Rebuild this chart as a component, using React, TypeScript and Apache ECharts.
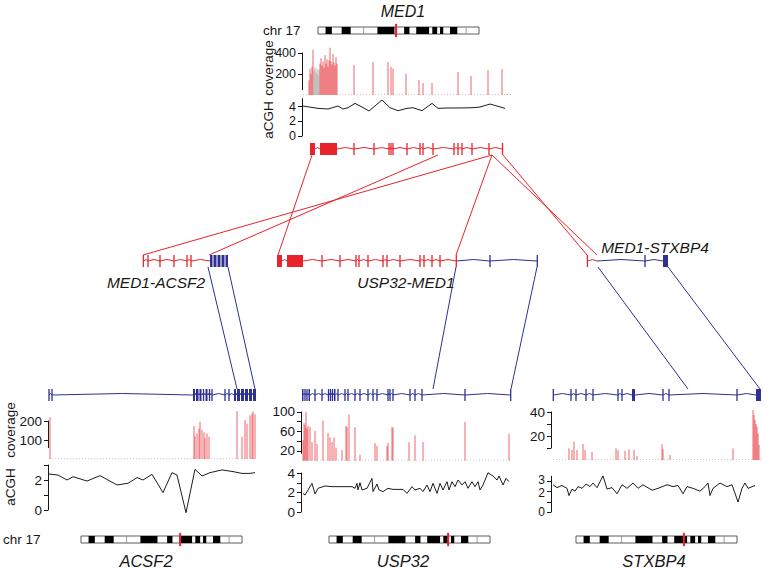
import React, { useEffect, useRef } from "react";
import * as echarts from "echarts";

const RED = "#e8232b";
const BLUE = "#2e3192";
const COV_RED = "rgba(229,36,44,0.74)";
const COV_GREY = "rgba(165,165,165,0.95)";
const INK = "#161616";
const FONT = "'Liberation Sans', Arial, Helvetica, sans-serif";

// ---------- chromosome 17 ideogram (percent of chromosome length) ----------
const chrBands = [[4.7, 8.6], [14.7, 20.3], [36.9, 47.5], [53.5, 56.8], [61, 69], [71, 74], [75.8, 77.8], [82, 86.5]];
const chrDividers = [28.3, 92];

// ---------- MED1 (top) ----------
// coverage: [position, reads, colour (0 red, 1 grey)]
const med1Coverage = [
  [6, 140, 0], [7, 250, 0], [8, 200, 0], [9, 270, 0], [10, 430, 0], [11, 230, 1], [12, 260, 1], [13, 210, 1],
  [14, 250, 1], [15, 190, 1], [16, 240, 1], [17, 300, 0], [18, 350, 0], [19, 280, 0], [20, 320, 0], [21, 260, 0],
  [22, 380, 0], [23, 300, 0], [24, 340, 0], [25, 270, 0], [26, 330, 0], [27, 450, 0], [28, 320, 0], [29, 290, 0],
  [30, 390, 0], [31, 310, 0], [32, 280, 0], [33, 360, 0], [34, 300, 0], [51, 286, 0], [70, 314, 0], [85, 314, 0],
  [88, 267, 0], [90, 250, 0], [103, 200, 0], [116, 143, 0], [120, 114, 0], [129, 114, 0], [155, 219, 0],
  [168, 181, 0], [185, 238, 0], [199, 248, 0], [204, 14, 1], [207, 10, 1],
];
const med1Acgh = [
  [0, 4.09], [15, 3.77], [25, 3.68], [35, 4.09], [40, 3.68], [45, 3.86], [52, 4.45], [59, 3.95], [66, 3.41],
  [79, 4.91], [87, 3.86], [95, 3.45], [104, 3.77], [110, 3.86], [119, 3.45], [129, 4.45], [135, 3.77],
  [144, 3.82], [157, 3.82], [170, 3.86], [177, 3.95], [187, 4.36], [194, 4.09], [202, 3.77],
];
// exons: [start, end, colour (0 MED1 red, 1 partner blue)]
const med1Exons = [
  [7, 12, 0], [17, 34, 0], [51, 51, 0], [71, 71, 0], [86, 86, 0], [88, 88, 0], [90, 90, 0], [104, 104, 0],
  [117, 117, 0], [120, 120, 0], [130, 130, 0], [151, 151, 0], [155, 155, 0], [159, 159, 0], [169, 169, 0],
  [186, 186, 0], [199, 200, 0],
];

// ---------- fusion transcripts (middle) ----------
const med1Acsf2Exons = [
  [0, 0.8, 0], [5, 5, 0], [17, 17, 0], [31, 31, 0], [44, 44, 0], [48, 48, 0],
  [67, 69.5, 1], [70.5, 73.5, 1], [74.5, 77.5, 1], [78.5, 81.5, 1], [82.5, 85, 1],
];
const med1Acsf2Introns = [[0.8, 5, 0], [5, 17, 0], [17, 31, 0], [31, 44, 0], [44, 48, 0], [48, 67, 0]];
const usp32Med1Exons = [
  [0, 5, 0], [10, 26, 0], [45, 45, 0], [63, 63, 0], [79, 79, 0], [82, 82, 0], [91, 91, 0], [106, 106, 0],
  [110, 110, 0], [123, 123, 0], [143, 143, 0], [147, 147, 0], [155, 155, 0], [163, 163, 0], [179, 179.6, 0],
  [213, 213, 1], [260, 260.6, 1],
];
const usp32Med1Introns = [
  [5, 10, 0], [26, 45, 0], [45, 63, 0], [63, 79, 0], [79, 82, 0], [82, 91, 0], [91, 106, 0], [106, 110, 0],
  [110, 123, 0], [123, 143, 0], [143, 147, 0], [147, 155, 0], [155, 163, 0], [163, 179, 0],
  [179.6, 213, 1], [213, 260, 1],
];
const med1Stxbp4Exons = [[0, 0.8, 0], [58, 58, 1], [76, 81, 1]];
const med1Stxbp4Introns = [[0.8, 10, 0], [10, 58, 1], [58, 76, 1]];

// ---------- ACSF2 ----------
const acsf2Coverage = [
  [1, 220, 0], [145, 174, 0], [146, 120, 0], [148, 135, 0], [150, 160, 0], [151, 196, 0], [153, 153, 0],
  [155, 140, 0], [156, 110, 0], [158, 135, 0], [160, 117, 0], [188, 252, 0], [193, 117, 0], [196, 205, 0],
  [198, 186, 0], [201, 230, 0], [203, 240, 0], [204, 250, 0], [206, 235, 0],
];
const acsf2Acgh = [
  [0, 2.4], [9, 2.33], [18, 2.0], [24, 2.22], [38, 1.93], [51, 2.29], [68, 1.67], [79, 1.78], [88, 2.16],
  [94, 2.0], [103, 2.38], [114, 1.16], [123, 2.49], [128, 2.33], [137, -0.18], [146, 2.71], [153, 2.27],
  [161, 2.49], [173, 2.67], [184, 2.56], [193, 2.44], [201, 2.44], [206, 2.49],
];
const acsf2Exons = [
  [0, 0, 1], [3, 3, 1], [144, 146, 1], [147, 149.5, 1], [150.5, 152.5, 1], [154, 155, 1], [156.5, 158.5, 1],
  [160, 161, 1], [162.5, 163.5, 1], [176, 176, 1], [180, 180, 1], [185, 187, 1], [188, 191, 1], [192, 195, 1],
  [196, 199, 1], [200, 203, 1], [204, 207, 1],
];

// ---------- USP32 ----------
const usp32Coverage = [
  [1, 42, 0], [2, 77, 0], [3, 73, 0], [4, 100, 0], [5, 66, 0], [6, 71, 0], [8, 69, 0], [10, 38, 0], [13, 61, 0],
  [15, 34, 0], [21, 82, 0], [26, 57, 0], [28, 48, 0], [30, 38, 0], [32, 48, 0], [34, 27, 0], [40, 22, 0],
  [44, 71, 0], [45, 69, 0], [47, 95, 0], [53, 69, 0], [58, 12, 0], [73, 36, 0], [75, 30, 0], [85, 30, 0],
  [86, 36, 0], [90, 69, 0], [91, 68, 0], [107, 38, 0], [113, 52, 0], [121, 38, 0], [163, 80, 0], [207, 55, 0],
];
const usp32Acgh = [
  [1, 1.91], [3, 1.74], [10, 2.94], [13, 1.85], [16, 2.43], [23, 2.67], [30, 2.6], [50, 2.6], [53, 2.43],
  [55, 2.94], [56, 2.26], [58, 3.01], [60, 2.26], [65, 2.43], [70, 3.45], [71, 2.09], [75, 2.87], [77, 2.26],
  [81, 2.09], [86, 2.43], [91, 2.32], [101, 2.32], [105, 1.91], [110, 2.6], [113, 2.26], [118, 2.43],
  [121, 2.09], [125, 2.77], [128, 2.09], [131, 2.94], [135, 1.91], [138, 2.94], [141, 2.26], [145, 3.11],
  [147, 2.26], [150, 3.11], [153, 2.6], [156, 3.28], [160, 2.77], [163, 3.11], [166, 2.43], [170, 3.11],
  [173, 2.6], [176, 3.11], [178, 2.26], [181, 2.77], [186, 4.03], [191, 3.69], [195, 3.28], [197, 3.69],
  [201, 2.77], [204, 3.45], [207, 3.11],
];
const usp32Exons = [
  [0, 1.5, 1], [2.5, 3.5, 1], [4.5, 5.5, 1], [6.5, 8, 1], [13, 13, 1], [20, 20, 1], [26, 27, 1], [28, 29, 1],
  [30, 31, 1], [32, 33.5, 1], [36, 36, 1], [43, 43, 1], [46, 46, 1], [53, 53, 1], [58, 58, 1], [66, 66, 1],
  [71, 71, 1], [75, 75, 1], [86, 86, 1], [88, 88, 1], [91, 91, 1], [108, 108, 1], [113, 113, 1],
  [120, 120, 1], [163, 163, 1], [208.4, 209, 1],
];

// ---------- STXBP4 ----------
const stxbp4Coverage = [
  [16, 9.7, 0], [19, 8.3, 0], [21, 15.3, 0], [24, 8.3, 0], [30, 13.3, 0], [32, 8.3, 0], [39, 6.9, 0],
  [63, 9.7, 0], [65, 8.3, 0], [72, 7.5, 0], [76, 8.9, 0], [81, 8.3, 0], [84, 3.3, 0], [109, 13.1, 0],
  [110, 8.9, 0], [117, 4.2, 0], [180, 9.7, 0], [200, 41.7, 0], [201, 37.5, 0], [202, 33.3, 0], [203, 30, 0],
  [204, 27.8, 0], [205, 22.2, 0], [206, 12.5, 0],
];
const stxbp4Acgh = [
  [0, 2.67], [4, 2.39], [9, 2.6], [14, 2.32], [16, 1.61], [19, 2.25], [22, 2.04], [25, 2.49], [29, 2.32],
  [33, 2.74], [37, 2.49], [40, 2.84], [44, 2.39], [50, 3.54], [54, 2.25], [59, 2.39], [64, 1.79], [69, 2.67],
  [74, 2.32], [80, 2.84], [85, 2.32], [90, 2.67], [99, 2.14], [105, 2.32], [114, 2.67], [120, 2.49],
  [125, 2.6], [130, 1.79], [134, 2.49], [140, 2.32], [147, 2.04], [152, 2.49], [155, 2.84], [157, 1.61],
  [160, 2.32], [167, 2.84], [174, 2.49], [179, 2.67], [185, 0.98], [189, 2.32], [192, 2.84], [195, 2.32],
  [202, 2.6],
];
const stxbp4Exons = [
  [0, 0.6, 1], [18, 18, 1], [23, 23, 1], [33, 33, 1], [40, 40, 1], [65, 65, 1], [69, 69, 1], [79, 82, 1],
  [110, 110, 1], [116, 116, 1], [184, 184, 1], [203, 208, 1],
];

// ---------- layout ----------
const TRACKS = [
  { name: "MED1", left: 303, top: 143, W: 208, exons: med1Exons, introns: null as any },
  { name: "MED1-ACSF2", left: 143, top: 255, W: 86, exons: med1Acsf2Exons, introns: med1Acsf2Introns },
  { name: "USP32-MED1", left: 277, top: 255, W: 262, exons: usp32Med1Exons, introns: usp32Med1Introns },
  { name: "MED1-STXBP4", left: 587, top: 255, W: 82, exons: med1Stxbp4Exons, introns: med1Stxbp4Introns },
  { name: "ACSF2", left: 49, top: 389, W: 208, exons: acsf2Exons, introns: null as any },
  { name: "USP32", left: 302, top: 389, W: 210, exons: usp32Exons, introns: null as any },
  { name: "STXBP4", left: 553, top: 389, W: 209, exons: stxbp4Exons, introns: null as any },
];
const TRACK_H = 12;

// connectors: [fromTrack, fromPos, toTrack, toPos, colour]
const connectors = [
  [0, 9, 2, 1, 0],
  [0, 135, 1, 66, 0],
  [0, 189, 1, 0, 0],
  [0, 189, 2, 179, 0],
  [0, 189, 3, 10, 0],
  [0, 200, 3, 0, 0],
  [1, 65, 4, 188, 1],
  [1, 85, 4, 206, 1],
  [2, 179, 5, 131, 1],
  [2, 260, 5, 209, 1],
  [3, 11, 6, 135, 1],
  [3, 81, 6, 207, 1],
];

// extra labels: the tick value they name, and the value where the label text is centred
type Extra = { value: number; at: number };
const NO_EXTRA: Extra[] = [];

const PANELS = [
  {
    spineX: 302, plotLeft: 303, W: 208,
    cov: { data: med1Coverage, floor: 4, yMin: 50, yMax: 400, zeroPx: 95, ppu: 0.105, ticks: [200, 400], labels: [200, 400], extra: NO_EXTRA, font: 12.5 },
    acgh: { data: med1Acgh, yMin: 0, yMax: 5.1, zeroPx: 136, ppu: 7.33, ticks: [0, 2, 4], labels: [0, 2, 4], extra: NO_EXTRA, font: 12.5 },
    chr: { left: 318, top: 27, marker: 48.5 },
  },
  {
    spineX: 48, plotLeft: 49, W: 207,
    cov: { data: acsf2Coverage, floor: 2, yMin: 60, yMax: 200, zeroPx: 459, ppu: 0.19, ticks: [100, 200], labels: [100, 200], extra: NO_EXTRA, font: 13.5 },
    acgh: { data: acsf2Acgh, yMin: 0, yMax: 3, zeroPx: 510, ppu: 15, ticks: [0, 1, 2, 3], labels: [0, 2], extra: NO_EXTRA, font: 13.5 },
    chr: { left: 81, top: 536, marker: 61.6 },
  },
  {
    spineX: 301, plotLeft: 302, W: 209,
    cov: { data: usp32Coverage, floor: 1, yMin: 15, yMax: 100, zeroPx: 460.7, ppu: 0.4875, ticks: [20, 40, 60, 80, 100], labels: [20, 60, 100], extra: NO_EXTRA, font: 13.5 },
    acgh: { data: usp32Acgh, yMin: 0, yMax: 4, zeroPx: 512, ppu: 9.75, ticks: [0, 1, 2, 3, 4], labels: [0, 2, 4], extra: NO_EXTRA, font: 13.5 },
    chr: { left: 329, top: 536, marker: 74 },
  },
  {
    spineX: 551, plotLeft: 553, W: 208,
    cov: { data: stxbp4Coverage, floor: 0.5, yMin: 10, yMax: 40, zeroPx: 460, ppu: 1.2, ticks: [10, 20, 30, 40], labels: [20, 40], extra: NO_EXTRA, font: 13.5 },
    acgh: {
      data: stxbp4Acgh, yMin: 0, yMax: 3.5, zeroPx: 512, ppu: 10.2, ticks: [0, 1, 2, 3], labels: [0],
      extra: [{ value: 3, at: 3.17 }, { value: 2, at: 1.87 }] as Extra[], font: 12,
    },
    chr: { left: 576, top: 536, marker: 67 },
  },
];
const CHR_W = 161;
const CHR_H = 7;

// texts: [text, x, y, size, italic, rotated, align]
const TEXTS: any[] = [
  ["MED1", 403, 11, 16, true, false, "center"],
  ["chr 17", 263, 30, 13.5, false, false, "left"],
  ["coverage", 268, 68, 13.5, false, true, "center"],
  ["aCGH", 268, 120, 13.5, false, true, "center"],
  ["MED1-ACSF2", 156, 282, 15.5, true, false, "center"],
  ["USP32-MED1", 406, 282, 15.5, true, false, "center"],
  ["MED1-STXBP4", 655, 247, 15.5, true, false, "center"],
  ["coverage", 10, 430, 13.5, false, true, "center"],
  ["aCGH", 10, 487, 13.5, false, true, "center"],
  ["chr 17", 3, 539, 13.5, false, false, "left"],
  ["ACSF2", 146, 561, 16.5, true, false, "center"],
  ["USP32", 403, 561, 16.5, true, false, "center"],
  ["STXBP4", 654, 561, 16.5, true, false, "center"],
];

function gaps(exons: number[][]) {
  const out: number[][] = [];
  for (let i = 0; i < exons.length - 1; i++) out.push([exons[i][1], exons[i + 1][0], exons[i][2]]);
  return out;
}

function buildOption() {
  const grid: any[] = [];
  const xAxis: any[] = [];
  const yAxis: any[] = [];
  const series: any[] = [];

  const addGrid = (g: any, x: any, y: any) => {
    const i = grid.length;
    grid.push({ ...g, show: false, containLabel: false, outerBoundsMode: "none" });
    xAxis.push({ type: "value", gridIndex: i, show: false, splitLine: { show: false }, ...x });
    yAxis.push({ type: "value", gridIndex: i, splitLine: { show: false }, ...y });
    return { g: i, y: yAxis.length - 1, x: xAxis.length - 1 };
  };
  const hiddenY = (min: number, max: number, inverse = false) => ({ min, max, show: false, inverse });
  const labelStyle = (font: number) => ({
    show: true, fontSize: font, fontFamily: FONT, color: INK, margin: 6,
    hideOverlap: false, showMinLabel: true, showMaxLabel: true,
  });
  const plotY = (s: any) => ({
    min: s.yMin,
    max: s.yMax,
    axisLine: { show: true, onZero: false, lineStyle: { color: INK, width: 1 } },
    axisTick: { show: true, length: 4, customValues: s.ticks, lineStyle: { color: INK, width: 1 } },
    axisLabel: { ...labelStyle(s.font), customValues: s.labels },
  });
  // extra label-only axes on the same grid (for labels that sit very close together)
  const addExtraLabels = (gi: number, s: any) => {
    s.extra.forEach((ex: Extra) => {
      yAxis.push({
        type: "value", gridIndex: gi, min: s.yMin, max: s.yMax, position: "left", offset: 0,
        splitLine: { show: false }, axisLine: { show: false }, axisTick: { show: false },
        axisLabel: { ...labelStyle(s.font), customValues: [ex.at], formatter: () => String(ex.value) },
      });
    });
  };

  // data panels
  PANELS.forEach((p) => {
    const gx = { min: p.spineX - p.plotLeft, max: p.W };
    const width = p.plotLeft + p.W - p.spineX;
    // coverage
    const c = p.cov;
    const ci = addGrid(
      { left: p.spineX, width, top: c.zeroPx - c.yMax * c.ppu, height: (c.yMax - c.yMin) * c.ppu },
      gx,
      plotY(c)
    );
    addExtraLabels(ci.g, c);
    series.push({
      type: "line", xAxisIndex: ci.x, yAxisIndex: ci.y, data: [[0, c.floor], [p.W, c.floor]],
      symbol: "none", silent: true, clip: false,
      lineStyle: { color: "rgba(200,150,150,0.6)", width: 1, type: [1, 2] },
    });
    series.push({
      type: "custom", xAxisIndex: ci.x, yAxisIndex: ci.y, data: c.data, clip: false, silent: true,
      renderItem: (_: any, api: any) => {
        const x = api.value(0), v = api.value(1), col = api.value(2);
        const a = api.coord([x, 0]);
        const b = api.coord([x, v]);
        return {
          type: "line",
          shape: { x1: a[0], y1: a[1], x2: b[0], y2: b[1] },
          style: { stroke: col ? COV_GREY : COV_RED, lineWidth: 0.95 },
        };
      },
    });
    // aCGH
    const g = p.acgh;
    const ai = addGrid(
      { left: p.spineX, width, top: g.zeroPx - g.yMax * g.ppu, height: (g.yMax - g.yMin) * g.ppu },
      gx,
      plotY(g)
    );
    addExtraLabels(ai.g, g);
    series.push({
      type: "line", xAxisIndex: ai.x, yAxisIndex: ai.y, data: g.data, symbol: "none", showSymbol: false,
      silent: true, clip: false, lineStyle: { color: "#1c1c1c", width: 1 },
    });
    // chromosome ideogram
    const chi = addGrid({ left: p.chr.left, top: p.chr.top, width: CHR_W, height: CHR_H }, { min: 0, max: 100 }, hiddenY(0, 1));
    const chrData: number[][] = [[0, 0, 100]];
    chrBands.forEach((b) => chrData.push([1, b[0], b[1]]));
    chrDividers.forEach((d) => chrData.push([2, d, d]));
    chrData.push([3, p.chr.marker, p.chr.marker]);
    series.push({
      type: "custom", xAxisIndex: chi.x, yAxisIndex: chi.y, data: chrData, clip: false, silent: true,
      renderItem: (_: any, api: any) => {
        const k = api.value(0), s = api.value(1), e = api.value(2);
        const a = api.coord([s, 0]);
        const b = api.coord([e, 1]);
        if (k === 0) return { type: "rect", shape: { x: a[0], y: b[1], width: b[0] - a[0], height: a[1] - b[1] }, style: { fill: "#fff", stroke: "#333", lineWidth: 0.8 } };
        if (k === 1) return { type: "rect", shape: { x: a[0], y: b[1], width: b[0] - a[0], height: a[1] - b[1] }, style: { fill: "#000" } };
        if (k === 2) return { type: "line", shape: { x1: a[0], y1: a[1], x2: a[0], y2: b[1] }, style: { stroke: "#888", lineWidth: 0.8 } };
        const t = api.coord([s, 1.45]);
        const u = api.coord([s, -0.45]);
        return { type: "line", shape: { x1: t[0], y1: t[1], x2: u[0], y2: u[1] }, style: { stroke: RED, lineWidth: 2 } };
      },
    });
  });

  // gene tracks
  TRACKS.forEach((t) => {
    const ti = addGrid({ left: t.left, top: t.top, width: t.W, height: TRACK_H }, { min: 0, max: t.W }, hiddenY(0, 1));
    const introns = t.introns || gaps(t.exons);
    const data: number[][] = [];
    introns.forEach((r: number[]) => data.push([0, r[0], r[1], r[2]]));
    t.exons.forEach((r: number[]) => data.push([1, r[0], r[1], r[2]]));
    series.push({
      type: "custom", xAxisIndex: ti.x, yAxisIndex: ti.y, data, clip: false, silent: true,
      renderItem: (_: any, api: any) => {
        const k = api.value(0), s = api.value(1), e = api.value(2), c = api.value(3);
        const color = c ? BLUE : RED;
        const a = api.coord([s, 0]);
        const b = api.coord([e, 1]);
        if (k === 1) {
          let x0 = a[0], x1 = b[0];
          if (x1 - x0 < 1.3) {
            const m = (x0 + x1) / 2;
            x0 = m - 0.65;
            x1 = m + 0.65;
          }
          return { type: "rect", shape: { x: x0, y: b[1], width: x1 - x0, height: a[1] - b[1] }, style: { fill: color } };
        }
        const ym = (a[1] + b[1]) / 2;
        const xm = (a[0] + b[0]) / 2;
        return {
          type: "polyline",
          shape: { points: [[a[0], ym], [xm, ym - 1.5], [b[0], ym]] },
          style: { stroke: color, fill: "none", lineWidth: 1 },
        };
      },
    });
  });

  // connectors overlay (page coordinates derived from track layout)
  const oi = addGrid({ left: 0, top: 0, width: 764, height: 570 }, { min: 0, max: 764 }, hiddenY(0, 570, true));
  const connData = connectors.map((c) => {
    const f = TRACKS[c[0]];
    const t = TRACKS[c[2]];
    return [f.left + c[1], f.top + TRACK_H, t.left + c[3], t.top, c[4]];
  });
  series.push({
    type: "custom", xAxisIndex: oi.x, yAxisIndex: oi.y, data: connData, clip: false, silent: true,
    renderItem: (_: any, api: any) => {
      const a = api.coord([api.value(0), api.value(1)]);
      const b = api.coord([api.value(2), api.value(3)]);
      return {
        type: "line",
        shape: { x1: a[0], y1: a[1], x2: b[0], y2: b[1] },
        style: { stroke: api.value(4) ? BLUE : RED, lineWidth: 1 },
      };
    },
  });

  const graphic = TEXTS.map((t) => ({
    type: "text",
    x: t[1],
    y: t[2],
    rotation: t[5] ? Math.PI / 2 : 0,
    silent: true,
    style: {
      text: t[0],
      fontSize: t[3],
      fontFamily: FONT,
      fontStyle: t[4] ? "italic" : "normal",
      fill: INK,
      textAlign: t[6],
      textVerticalAlign: "middle",
    },
  }));

  return { animation: false, backgroundColor: "#fff", grid, xAxis, yAxis, series, graphic };
}

export default function App() {
  const ref = useRef<HTMLDivElement>(null);
  useEffect(() => {
    const chart = echarts.init(ref.current!, undefined, { renderer: "svg" });
    chart.setOption(buildOption() as any);
    return () => chart.dispose();
  }, []);
  return (
    <div
      ref={ref}
      style={{ position: "fixed", left: 0, top: 0, width: 764, height: 570, background: "#fff" }}
    />
  );
}
